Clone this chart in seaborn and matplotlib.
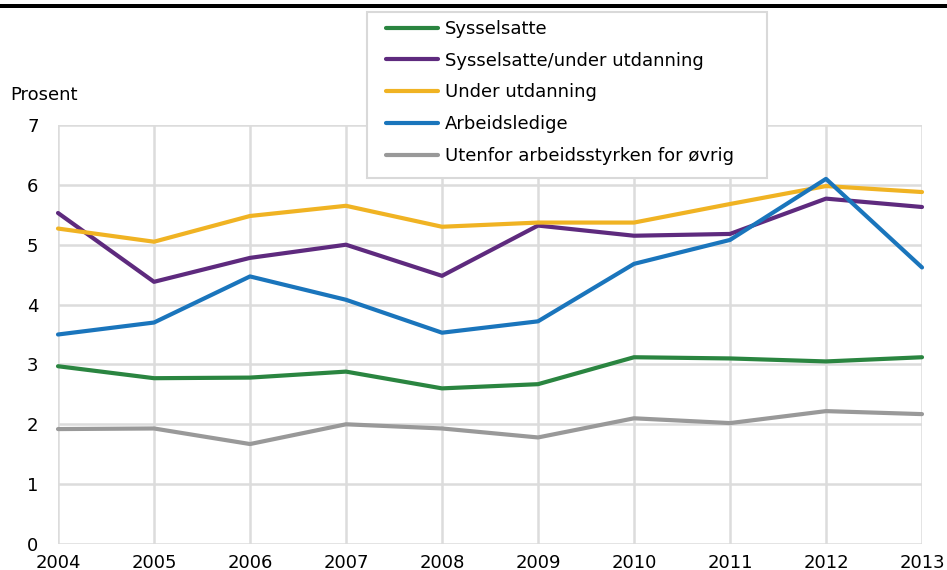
import numpy as np
import pandas as pd
import matplotlib
matplotlib.use("Agg")
import matplotlib.pyplot as plt
import seaborn as sns
from matplotlib.patches import Rectangle

years = [2004, 2005, 2006, 2007, 2008, 2009, 2010, 2011, 2012, 2013]

sysselsatte = [2.97, 2.77, 2.78, 2.88, 2.60, 2.67, 3.12, 3.10, 3.05, 3.12]
syss_utd = [5.53, 4.38, 4.78, 5.00, 4.48, 5.32, 5.15, 5.18, 5.77, 5.63]
under_utd = [5.27, 5.05, 5.48, 5.65, 5.30, 5.37, 5.37, 5.68, 5.98, 5.88]
ledige = [3.50, 3.70, 4.47, 4.08, 3.53, 3.72, 4.68, 5.08, 6.10, 4.62]
utenfor = [1.92, 1.93, 1.67, 2.00, 1.93, 1.78, 2.10, 2.02, 2.22, 2.17]

series = {
    "Sysselsatte": sysselsatte,
    "Sysselsatte/under utdanning": syss_utd,
    "Under utdanning": under_utd,
    "Arbeidsledige": ledige,
    "Utenfor arbeidsstyrken for øvrig": utenfor,
}
colors = ["#2a8540", "#5e2a7e", "#f0b323", "#1a75bc", "#999999"]

rows = []
for name, vals in series.items():
    for y, v in zip(years, vals):
        rows.append({"year": y, "value": v, "group": name})
df = pd.DataFrame(rows)

sns.set_style("white")
plt.rcParams["font.family"] = ["DejaVu Sans"]
plt.rcParams["text.color"] = "black"

fig = plt.figure(figsize=(9.47, 5.70), dpi=100)
ax = fig.add_axes([58 / 947, 26 / 570, (922 - 58) / 947, (544 - 125) / 570])

sns.lineplot(data=df, x="year", y="value", hue="group", hue_order=list(series.keys()),
             palette=colors, linewidth=3, ax=ax, legend=False, clip_on=False)

ax.set_xlim(2004, 2013)
ax.set_ylim(0, 7)
ax.set_xticks(years)
ax.set_yticks(range(0, 8))
ax.grid(True, color="#dcdcdc", linewidth=1.8)
ax.set_axisbelow(True)
for s in ax.spines.values():
    s.set_visible(False)
ax.tick_params(axis="both", length=0, labelsize=13, colors="black")
ax.tick_params(axis="x", pad=7)
ax.tick_params(axis="y", pad=14)
ax.set_xlabel("")
ax.set_ylabel("")

fig.text(10 / 947, 1 - 95 / 570, "Prosent", fontsize=13, va="center", ha="left", color="black")

# legend (frame drawn separately)
handles = [plt.Line2D([], [], color=c, linewidth=3) for c in colors]
leg = fig.legend(handles, list(series.keys()), loc="upper left",
                 bbox_to_anchor=(386 / 947, 1 - 20 / 570), fontsize=13,
                 frameon=False, handlelength=2.9, handletextpad=0.35,
                 labelspacing=0.76, borderpad=0.0, borderaxespad=0.0,
                 labelcolor="black")
fig.add_artist(Rectangle((367 / 947, 1 - 178 / 570), 400 / 947, 166 / 570,
                         transform=fig.transFigure, facecolor="white",
                         edgecolor="#d9d9d9", linewidth=1.5, zorder=2))
leg.set_zorder(3)

# black bar on top
fig.add_artist(Rectangle((0, 1 - 8 / 570), 1, 4 / 570, transform=fig.transFigure,
                         color="black", linewidth=0))

fig.savefig("out.png", dpi=100)
